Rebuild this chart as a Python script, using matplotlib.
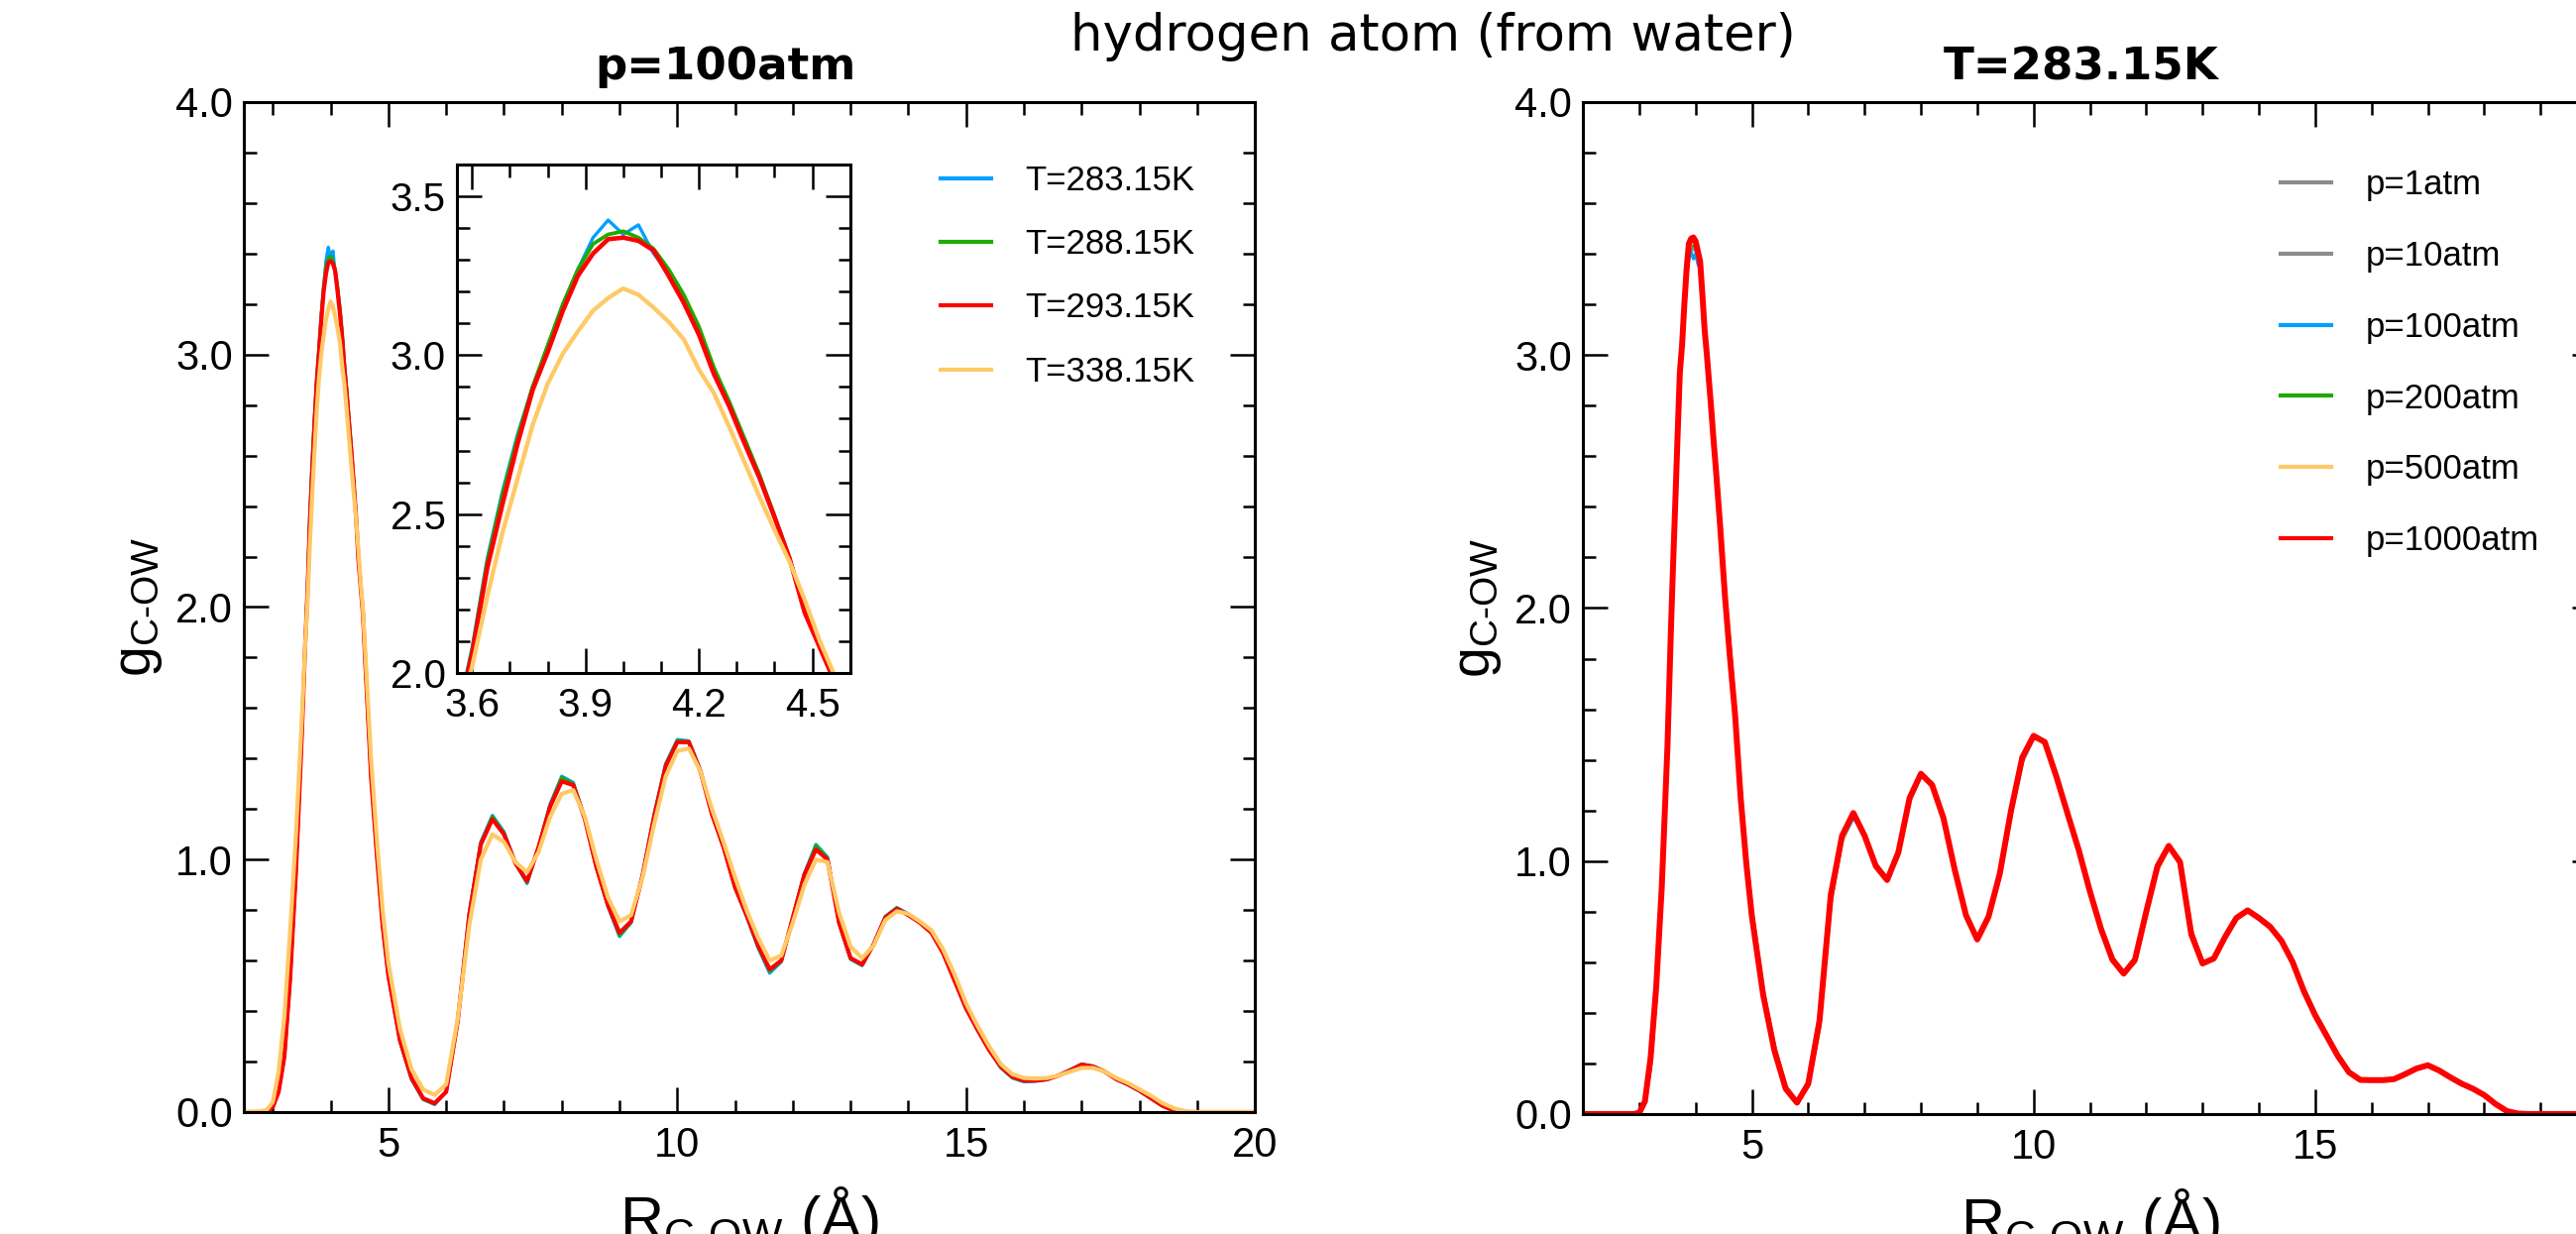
import matplotlib
matplotlib.use('Agg')
import matplotlib.pyplot as plt
from matplotlib.ticker import MultipleLocator, FormatStrFormatter

plt.rcParams['font.family'] = ['Liberation Sans', 'DejaVu Sans']
plt.rcParams['mathtext.fontset'] = 'custom'
plt.rcParams['mathtext.rm'] = 'Liberation Sans'
plt.rcParams['mathtext.it'] = 'Liberation Sans:italic'
plt.rcParams['lines.solid_joinstyle'] = 'round'

# distance grid (Angstrom), shared by every curve
r = [2.0, 2.5, 2.8, 2.9, 3.0, 3.1, 3.2, 3.3, 3.4, 3.5, 3.56,
     3.6, 3.64, 3.68, 3.72, 3.76, 3.8, 3.84, 3.88, 3.92, 3.96, 4.0,
     4.04, 4.08, 4.12, 4.16, 4.2, 4.24, 4.28, 4.32, 4.36, 4.4, 4.44, 4.48, 4.52, 4.56, 4.6,
     4.7, 4.8, 4.9, 5.0,
     5.2, 5.4, 5.6, 5.8, 6.0, 6.2, 6.4, 6.6, 6.8, 7.0,
     7.2, 7.4, 7.6, 7.8, 8.0, 8.2, 8.4, 8.6, 8.8, 9.0,
     9.2, 9.4, 9.6, 9.8, 10.0, 10.2, 10.4, 10.6, 10.8, 11.0,
     11.2, 11.4, 11.6, 11.8, 12.0, 12.2, 12.4, 12.6, 12.8, 13.0,
     13.2, 13.4, 13.6, 13.8, 14.0, 14.2, 14.4, 14.6, 14.8, 15.0,
     15.2, 15.4, 15.6, 15.8, 16.0, 16.2, 16.4, 16.6, 16.8, 17.0,
     17.2, 17.4, 17.6, 17.8, 18.0, 18.2, 18.4, 18.6, 18.8, 19.0,
     19.5, 20.0]

# ---- left panel: p = 100 atm, different temperatures ----
g_T283 = [0, 0, 0, 0.003, 0.02, 0.08, 0.22, 0.53, 0.96, 1.49, 1.86,
          2.08, 2.36, 2.57, 2.75, 2.90, 3.03, 3.16, 3.27, 3.37, 3.425, 3.38,
          3.41, 3.32, 3.26, 3.18, 3.08, 2.96, 2.85, 2.735, 2.62, 2.495, 2.36, 2.20, 2.09, 1.97, 1.78,
          1.33, 1.02, 0.74, 0.54,
          0.28, 0.13, 0.05, 0.03, 0.08, 0.36, 0.79, 1.07, 1.175, 1.11,
          0.985, 0.905, 1.05, 1.22, 1.33, 1.305, 1.165, 0.97, 0.815, 0.695,
          0.75, 0.94, 1.18, 1.38, 1.475, 1.47, 1.355, 1.18, 1.05, 0.89,
          0.775, 0.65, 0.55, 0.595, 0.77, 0.945, 1.06, 1.01, 0.75, 0.605,
          0.58, 0.665, 0.775, 0.81, 0.785, 0.75, 0.71, 0.63, 0.52, 0.41,
          0.325, 0.245, 0.175, 0.135, 0.12, 0.122, 0.128, 0.145, 0.168, 0.19,
          0.182, 0.16, 0.13, 0.108, 0.083, 0.053, 0.024, 0.005, 0, 0,
          0, 0]
g_T288 = [0, 0, 0, 0.003, 0.02, 0.08, 0.22, 0.53, 0.96, 1.49, 1.85,
          2.07, 2.35, 2.56, 2.74, 2.90, 3.03, 3.16, 3.27, 3.35, 3.38, 3.39,
          3.37, 3.335, 3.27, 3.19, 3.09, 2.96, 2.855, 2.74, 2.625, 2.495, 2.36, 2.20, 2.085, 1.97, 1.78,
          1.33, 1.02, 0.74, 0.54,
          0.283, 0.132, 0.052, 0.032, 0.08, 0.36, 0.785, 1.065, 1.17, 1.105,
          0.985, 0.91, 1.05, 1.215, 1.325, 1.30, 1.165, 0.97, 0.818, 0.70,
          0.752, 0.94, 1.175, 1.375, 1.47, 1.468, 1.352, 1.18, 1.05, 0.89,
          0.778, 0.655, 0.558, 0.598, 0.77, 0.942, 1.055, 1.005, 0.75, 0.608,
          0.582, 0.665, 0.772, 0.808, 0.782, 0.75, 0.71, 0.63, 0.52, 0.41,
          0.325, 0.245, 0.178, 0.138, 0.123, 0.124, 0.13, 0.145, 0.166, 0.189,
          0.181, 0.16, 0.13, 0.109, 0.084, 0.054, 0.025, 0.005, 0, 0,
          0, 0]
g_T293 = [0, 0, 0, 0.003, 0.02, 0.08, 0.22, 0.53, 0.95, 1.48, 1.85,
          2.06, 2.33, 2.53, 2.72, 2.89, 3.01, 3.14, 3.25, 3.32, 3.365, 3.37,
          3.36, 3.33, 3.25, 3.165, 3.065, 2.94, 2.84, 2.725, 2.615, 2.49, 2.36, 2.19, 2.08, 1.97, 1.78,
          1.33, 1.02, 0.74, 0.54,
          0.285, 0.135, 0.055, 0.035, 0.08, 0.36, 0.78, 1.06, 1.16, 1.10,
          0.985, 0.915, 1.05, 1.21, 1.31, 1.295, 1.16, 0.97, 0.82, 0.71,
          0.755, 0.938, 1.17, 1.37, 1.465, 1.465, 1.35, 1.18, 1.05, 0.89,
          0.78, 0.66, 0.565, 0.60, 0.77, 0.94, 1.04, 1.00, 0.75, 0.61,
          0.585, 0.665, 0.77, 0.805, 0.78, 0.75, 0.71, 0.63, 0.52, 0.41,
          0.325, 0.245, 0.18, 0.14, 0.125, 0.125, 0.13, 0.145, 0.165, 0.188,
          0.18, 0.16, 0.13, 0.11, 0.085, 0.055, 0.025, 0.005, 0, 0,
          0, 0]
g_T338 = [0, 0, 0.003, 0.01, 0.04, 0.16, 0.38, 0.72, 1.1, 1.55, 1.85,
          2.02, 2.24, 2.44, 2.61, 2.78, 2.91, 3.005, 3.075, 3.14, 3.18, 3.21,
          3.19, 3.15, 3.105, 3.05, 2.955, 2.88, 2.775, 2.665, 2.555, 2.45, 2.35, 2.23, 2.10, 1.99, 1.82,
          1.40, 1.08, 0.80, 0.59,
          0.33, 0.17, 0.09, 0.068, 0.11, 0.37, 0.74, 1.0, 1.10, 1.07,
          0.99, 0.95, 1.03, 1.17, 1.26, 1.275, 1.17, 1.0, 0.85, 0.755,
          0.78, 0.93, 1.14, 1.33, 1.43, 1.44, 1.35, 1.2, 1.07, 0.93,
          0.80, 0.69, 0.60, 0.62, 0.75, 0.90, 1.0, 0.99, 0.79, 0.655,
          0.61, 0.66, 0.76, 0.795, 0.785, 0.755, 0.72, 0.645, 0.545, 0.43,
          0.34, 0.26, 0.19, 0.15, 0.135, 0.133, 0.135, 0.145, 0.16, 0.175,
          0.175, 0.16, 0.135, 0.115, 0.09, 0.065, 0.035, 0.015, 0.003, 0,
          0, 0]

# ---- right panel: T = 283.15 K, different pressures ----
g_p1 = [0, 0, 0, 0, 0.004, 0.05, 0.19, 0.47, 0.86, 1.41, 1.85,
        2.15, 2.41, 2.65, 2.89, 3.01, 3.16, 3.31, 3.40, 3.42, 3.42, 3.41,
        3.38, 3.35, 3.24, 3.12, 2.995, 2.905, 2.805, 2.68, 2.56, 2.44, 2.32, 2.20, 2.065, 1.97, 1.87,
        1.60, 1.28, 1.01, 0.80,
        0.48, 0.26, 0.105, 0.048, 0.115, 0.35, 0.84, 1.085, 1.18, 1.105,
        0.985, 0.925, 1.025, 1.24, 1.34, 1.305, 1.17, 0.975, 0.78, 0.69,
        0.775, 0.94, 1.19, 1.40, 1.49, 1.472, 1.345, 1.185, 1.05, 0.88,
        0.735, 0.615, 0.555, 0.605, 0.79, 0.97, 1.058, 1.0, 0.72, 0.598,
        0.612, 0.698, 0.772, 0.805, 0.778, 0.742, 0.688, 0.605, 0.49, 0.395,
        0.315, 0.232, 0.168, 0.136, 0.134, 0.134, 0.137, 0.156, 0.178, 0.192,
        0.174, 0.147, 0.122, 0.102, 0.077, 0.042, 0.014, 0.003, 0, 0,
        0, 0]
g_p10 = [0, 0, 0, 0, 0.004, 0.05, 0.19, 0.47, 0.86, 1.41, 1.86,
         2.16, 2.42, 2.66, 2.90, 3.02, 3.17, 3.31, 3.41, 3.43, 3.42, 3.42,
         3.39, 3.35, 3.24, 3.12, 2.995, 2.905, 2.805, 2.68, 2.56, 2.44, 2.32, 2.20, 2.065, 1.97, 1.87,
         1.60, 1.28, 1.01, 0.80,
         0.48, 0.26, 0.105, 0.048, 0.115, 0.35, 0.84, 1.085, 1.18, 1.105,
         0.985, 0.925, 1.025, 1.24, 1.34, 1.305, 1.17, 0.975, 0.78, 0.69,
         0.775, 0.94, 1.19, 1.40, 1.49, 1.472, 1.345, 1.185, 1.05, 0.88,
         0.735, 0.615, 0.555, 0.605, 0.79, 0.97, 1.058, 1.0, 0.72, 0.598,
         0.612, 0.698, 0.772, 0.805, 0.778, 0.742, 0.688, 0.605, 0.49, 0.395,
         0.315, 0.232, 0.168, 0.136, 0.134, 0.134, 0.137, 0.156, 0.178, 0.192,
         0.174, 0.147, 0.122, 0.102, 0.077, 0.042, 0.014, 0.003, 0, 0,
         0, 0]
g_p100 = [0, 0, 0, 0, 0.004, 0.05, 0.18, 0.46, 0.85, 1.40, 1.84,
          2.15, 2.41, 2.64, 2.89, 3.01, 3.16, 3.30, 3.38, 3.41, 3.38, 3.40,
          3.36, 3.34, 3.24, 3.12, 2.995, 2.905, 2.805, 2.685, 2.565, 2.445, 2.325, 2.205, 2.07, 1.975, 1.88,
          1.61, 1.29, 1.02, 0.81,
          0.49, 0.27, 0.11, 0.05, 0.11, 0.34, 0.83, 1.08, 1.17, 1.11,
          0.99, 0.93, 1.02, 1.235, 1.335, 1.31, 1.175, 0.98, 0.785, 0.69,
          0.77, 0.935, 1.18, 1.39, 1.485, 1.475, 1.35, 1.19, 1.055, 0.885,
          0.74, 0.62, 0.555, 0.60, 0.785, 0.965, 1.055, 1.005, 0.73, 0.60,
          0.61, 0.695, 0.77, 0.805, 0.78, 0.745, 0.69, 0.61, 0.495, 0.40,
          0.32, 0.235, 0.17, 0.137, 0.134, 0.134, 0.137, 0.155, 0.177, 0.192,
          0.176, 0.149, 0.124, 0.104, 0.079, 0.044, 0.015, 0.003, 0, 0,
          0, 0]
g_p200 = [0, 0, 0, 0, 0.004, 0.05, 0.18, 0.46, 0.86, 1.41, 1.85,
          2.16, 2.42, 2.65, 2.90, 3.02, 3.17, 3.31, 3.40, 3.43, 3.435, 3.43,
          3.40, 3.36, 3.25, 3.13, 3.0, 2.91, 2.81, 2.685, 2.565, 2.445, 2.325, 2.205, 2.07, 1.975, 1.88,
          1.61, 1.29, 1.02, 0.81,
          0.49, 0.27, 0.11, 0.05, 0.11, 0.34, 0.83, 1.08, 1.185, 1.11,
          0.99, 0.93, 1.02, 1.235, 1.34, 1.31, 1.175, 0.98, 0.785, 0.695,
          0.77, 0.935, 1.18, 1.395, 1.49, 1.475, 1.35, 1.19, 1.055, 0.885,
          0.74, 0.62, 0.56, 0.60, 0.785, 0.965, 1.055, 1.005, 0.73, 0.60,
          0.61, 0.695, 0.77, 0.805, 0.78, 0.745, 0.69, 0.61, 0.495, 0.40,
          0.32, 0.235, 0.17, 0.137, 0.134, 0.134, 0.137, 0.155, 0.177, 0.192,
          0.176, 0.149, 0.124, 0.104, 0.079, 0.044, 0.015, 0.003, 0, 0,
          0, 0]
g_p500 = [0, 0, 0, 0, 0.004, 0.05, 0.18, 0.46, 0.85, 1.40, 1.84,
          2.15, 2.41, 2.64, 2.89, 3.02, 3.17, 3.32, 3.41, 3.44, 3.445, 3.44,
          3.41, 3.37, 3.25, 3.13, 3.0, 2.91, 2.81, 2.685, 2.565, 2.445, 2.325, 2.205, 2.07, 1.975, 1.88,
          1.61, 1.29, 1.02, 0.81,
          0.49, 0.27, 0.11, 0.05, 0.11, 0.34, 0.83, 1.08, 1.185, 1.11,
          0.99, 0.93, 1.02, 1.235, 1.34, 1.31, 1.175, 0.98, 0.785, 0.695,
          0.77, 0.935, 1.18, 1.395, 1.49, 1.475, 1.35, 1.19, 1.055, 0.885,
          0.74, 0.62, 0.56, 0.60, 0.785, 0.965, 1.055, 1.005, 0.73, 0.60,
          0.61, 0.695, 0.77, 0.805, 0.78, 0.745, 0.69, 0.61, 0.495, 0.40,
          0.32, 0.235, 0.17, 0.137, 0.134, 0.134, 0.137, 0.155, 0.177, 0.192,
          0.176, 0.149, 0.124, 0.104, 0.079, 0.044, 0.015, 0.003, 0, 0,
          0, 0]
g_p1000 = [0, 0, 0, 0, 0.005, 0.05, 0.22, 0.5, 0.9, 1.45, 1.9,
           2.17, 2.42, 2.68, 2.93, 3.04, 3.2, 3.34, 3.44, 3.46, 3.465, 3.45,
           3.41, 3.37, 3.24, 3.10, 3.0, 2.89, 2.78, 2.66, 2.55, 2.43, 2.31, 2.18, 2.05, 1.94, 1.83,
           1.58, 1.25, 0.99, 0.78,
           0.47, 0.25, 0.10, 0.045, 0.12, 0.37, 0.866, 1.10, 1.19, 1.10,
           0.98, 0.925, 1.035, 1.25, 1.345, 1.30, 1.17, 0.966, 0.786, 0.69,
           0.78, 0.95, 1.2, 1.41, 1.495, 1.47, 1.337, 1.19, 1.045, 0.88,
           0.73, 0.61, 0.555, 0.61, 0.80, 0.98, 1.06, 0.996, 0.71, 0.595,
           0.615, 0.70, 0.775, 0.805, 0.775, 0.74, 0.685, 0.60, 0.485, 0.39,
           0.31, 0.23, 0.165, 0.135, 0.134, 0.134, 0.138, 0.158, 0.18, 0.193,
           0.172, 0.145, 0.12, 0.10, 0.075, 0.04, 0.012, 0.002, 0, 0,
           0, 0]

left_labels = ['T=283.15K', 'T=288.15K', 'T=293.15K', 'T=338.15K']
left_series = [g_T283, g_T288, g_T293, g_T338]
left_colors = ['#00A0FF', '#1EAA00', '#FF0000', '#FFC966']
left_widths = [2.4, 2.4, 3.0, 3.0]

right_labels = ['p=1atm', 'p=10atm', 'p=100atm', 'p=200atm', 'p=500atm', 'p=1000atm']
right_series = [g_p1, g_p10, g_p100, g_p200, g_p500, g_p1000]
right_colors = ['#8C8C8C', '#8C8C8C', '#00A0FF', '#1EAA00', '#FFC966', '#FF0000']
right_widths = [2.2, 2.2, 2.2, 2.2, 2.2, 4.3]


def style_axes(ax, xmaj, xmin, ymaj, ymin, xfmt, yfmt, fs):
    ax.xaxis.set_major_locator(MultipleLocator(xmaj))
    ax.xaxis.set_minor_locator(MultipleLocator(xmin))
    ax.yaxis.set_major_locator(MultipleLocator(ymaj))
    ax.yaxis.set_minor_locator(MultipleLocator(ymin))
    ax.xaxis.set_major_formatter(FormatStrFormatter(xfmt))
    ax.yaxis.set_major_formatter(FormatStrFormatter(yfmt))
    ax.tick_params(which='both', direction='in', top=True, right=True, width=1.8)
    ax.tick_params(which='major', length=18, labelsize=fs)
    ax.tick_params(which='minor', length=9)
    ax.tick_params(axis='x', which='major', pad=10)
    ax.tick_params(axis='y', which='major', pad=8)
    for s in ax.spines.values():
        s.set_linewidth(2.2)


fig = plt.figure(figsize=(25.99, 12.45), dpi=100)

# left panel
ax1 = fig.add_axes([0.0947, 0.0988, 0.3925, 0.8185])
for g, lab, c, lw in zip(left_series, left_labels, left_colors, left_widths):
    ax1.plot(r, g, color=c, lw=lw, label=lab)
ax1.set_xlim(2.5, 20)
ax1.set_ylim(0, 4)
style_axes(ax1, 5, 1, 1.0, 0.2, '%d', '%.1f', 30)
ax1.set_xlabel(r'R$_{\mathregular{C\text{-}OW}}$ (Å)', fontsize=44, labelpad=14)
ax1.set_ylabel(r'g$_{\mathregular{C\text{-}OW}}$', fontsize=40, labelpad=8)
leg1 = ax1.legend(loc='upper left', bbox_to_anchor=(0.3651, 0.8667),
                  bbox_transform=fig.transFigure, frameon=False, fontsize=25,
                  handlelength=1.47, handletextpad=1.0, labelspacing=0.9,
                  borderpad=0, borderaxespad=0)
for ln in leg1.get_lines():
    ln.set_linewidth(3)

# inset with the first peak
axin = fig.add_axes([0.1774, 0.4546, 0.1526, 0.4121])
for g, c, lw in zip(left_series, left_colors, [2.4, 2.7, 3.3, 3.1]):
    axin.plot(r, g, color=c, lw=lw)
axin.set_xlim(3.56, 4.6)
axin.set_ylim(2.0, 3.6)
style_axes(axin, 0.3, 0.1, 0.5, 0.1, '%.1f', '%.1f', 29)

# right panel
ax2 = fig.add_axes([0.6145, 0.0972, 0.3936, 0.8201])
for g, lab, c, lw in zip(right_series, right_labels, right_colors, right_widths):
    ax2.plot(r, g, color=c, lw=lw, label=lab)
ax2.set_xlim(2, 20)
ax2.set_ylim(0, 4)
style_axes(ax2, 5, 1, 1.0, 0.2, '%d', '%.1f', 30)
ax2.set_xlabel(r'R$_{\mathregular{C\text{-}OW}}$ (Å)', fontsize=44, labelpad=14)
ax2.set_ylabel(r'g$_{\mathregular{C\text{-}OW}}$', fontsize=40, labelpad=8)
leg2 = ax2.legend(loc='upper left', bbox_to_anchor=(0.8853, 0.8635),
                  bbox_transform=fig.transFigure, frameon=False, fontsize=25,
                  handlelength=1.47, handletextpad=1.0, labelspacing=1.12,
                  borderpad=0, borderaxespad=0)
for ln in leg2.get_lines():
    ln.set_linewidth(3)

# titles
fig.text(0.5564, 0.9590, 'hydrogen atom (from water)', ha='center', va='baseline',
         fontsize=37, family='DejaVu Sans')
fig.text(0.2816, 0.9357, 'p=100atm', ha='center', va='baseline',
         fontsize=32.5, fontweight='bold', family='DejaVu Sans')
fig.text(0.808, 0.9357, 'T=283.15K', ha='center', va='baseline',
         fontsize=32.5, fontweight='bold', family='DejaVu Sans')

fig.savefig('out.png', dpi=100)
